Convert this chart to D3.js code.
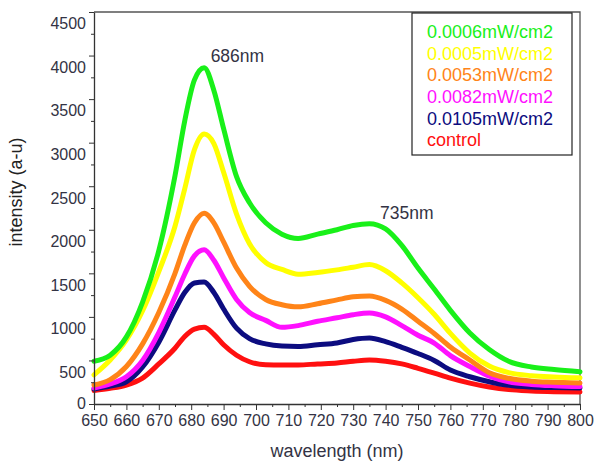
<!DOCTYPE html>
<html>
<head>
<meta charset="utf-8">
<script src="https://cdn.jsdelivr.net/npm/d3@7"></script>
<style>
  body { margin: 0; background: #fff; }
  text { font-family: "Liberation Sans", Arial, sans-serif; }
</style>
</head>
<body>
<svg id="chart"></svg>
<script>
var width = 594;
var height = 463;
var pad = { top: 12, right: 14, bottom: 59, left: 94 };

// wavelength samples (nm)
var wavelengths = [650, 655, 660, 665, 670, 675, 678, 681, 684, 687, 690, 694, 698, 703, 708, 713,
                   719, 725, 730, 735, 740, 745, 750, 755, 760, 766, 772, 778, 785, 792, 800];

// intensity readings per series (a-u)
var green = [490, 560, 770, 1170, 1760, 2620, 3250, 3720, 3860, 3600, 3160, 2610, 2310, 2080, 1950, 1900,
             1950, 2000, 2050, 2070, 2010, 1820, 1560, 1320, 1075, 815, 625, 490, 425, 395, 370];
var yellow = [335, 505, 735, 1070, 1520, 2040, 2470, 2920, 3100, 2990, 2660, 2180, 1840, 1625, 1545, 1490,
              1510, 1540, 1570, 1600, 1530, 1390, 1220, 1030, 810, 585, 435, 360, 325, 310, 300];
var orange = [218, 280, 430, 690, 1050, 1500, 1820, 2080, 2190, 2080, 1860, 1560, 1350, 1200, 1140, 1115,
              1150, 1195, 1230, 1240, 1190, 1090, 950, 810, 655, 505, 360, 295, 262, 250, 240];
var magenta = [184, 230, 313, 500, 820, 1230, 1490, 1700, 1770, 1650, 1450, 1200, 1050, 960, 880, 900,
               950, 990, 1025, 1045, 1000, 900, 790, 700, 555, 430, 320, 255, 225, 210, 200];
var navy = [172, 205, 256, 425, 710, 1080, 1280, 1390, 1400, 1280, 1090, 870, 750, 690, 665, 660,
            680, 700, 740, 757, 715, 650, 580, 500, 390, 313, 256, 215, 195, 188, 184];
var control = [155, 180, 218, 298, 460, 640, 775, 860, 880, 800, 680, 560, 485, 450, 448, 448,
               460, 470, 490, 505, 490, 460, 410, 355, 298, 240, 195, 165, 150, 142, 138];

var seriesNames = ["0.0006mW/cm2", "0.0005mW/cm2", "0.0053mW/cm2", "0.0082mW/cm2", "0.0105mW/cm2", "control"];
var seriesColors = ["#19f019", "#ffff00", "#ff8418", "#ff10ff", "#0c0c80", "#ff1010"];
var seriesValues = [green, yellow, orange, magenta, navy, control];

var xMajor = d3.range(650, 801, 10);
var xMinor = d3.range(655, 800, 10);
var yMajor = d3.range(0, 4501, 500);
var yMinor = d3.range(250, 4500, 500);

var peakLabels = [{ text: "686nm", x: 686, y: 4000 }, { text: "735nm", x: 738.3, y: 2190 }];

var svg = d3.select("#chart")
    .attr("width", width)
    .attr("height", height);

var x = d3.scaleLinear()
    .domain([650, 800])
    .range([pad.left, width - pad.right]);

var y = d3.scaleLinear()
    .domain([0, 4500])
    .range([height - pad.bottom, pad.top]);

// frame (top and right sides)
svg.append("path")
    .attr("d", "M" + x(650) + "," + y(4500) + "H" + x(800) + "V" + y(0))
    .attr("fill", "none")
    .attr("stroke", "#555")
    .attr("stroke-width", 1.3);

// lines, control at the bottom of the stack
var line = d3.line()
    .x(function(d, i) { return x(wavelengths[i]); })
    .y(function(d) { return y(d); })
    .curve(d3.curveMonotoneX);

svg.append("g")
  .selectAll("path")
  .data(d3.range(seriesValues.length).reverse())
  .enter()
  .append("path")
    .attr("d", function(i) { return line(seriesValues[i]); })
    .attr("fill", "none")
    .attr("stroke", function(i) { return seriesColors[i]; })
    .attr("stroke-width", 5)
    .attr("stroke-linejoin", "round")
    .attr("stroke-linecap", "round");

// axes
var xAxis = svg.append("g")
    .attr("transform", "translate(0," + y(0) + ")")
    .call(d3.axisBottom(x).tickValues(xMajor).tickSize(6).tickSizeOuter(0).tickPadding(5)
      .tickFormat(d3.format("d")));
svg.append("g")
    .attr("transform", "translate(0," + y(0) + ")")
    .call(d3.axisBottom(x).tickValues(xMinor).tickSize(3).tickFormat(""))
    .call(function(g) { g.select(".domain").remove(); });

var yAxis = svg.append("g")
    .attr("transform", "translate(" + x(650) + ",0)")
    .call(d3.axisLeft(y).tickValues(yMajor).tickSize(5).tickSizeOuter(0).tickPadding(3)
      .tickFormat(d3.format("d")));
svg.append("g")
    .attr("transform", "translate(" + x(650) + ",0)")
    .call(d3.axisLeft(y).tickValues(yMinor).tickSize(3).tickFormat(""))
    .call(function(g) { g.select(".domain").remove(); });

svg.selectAll(".domain").attr("stroke", "#333").attr("stroke-width", 1.3);
svg.selectAll(".tick line").attr("stroke", "#333");
svg.selectAll(".tick text")
    .attr("font-size", 16)
    .attr("font-family", "Liberation Sans, Arial, sans-serif")
    .attr("fill", "#333344");
// labels on the y axis sit a little below their ticks in the reference
yAxis.selectAll(".tick text").attr("dy", "1.05em");
// keep the "0" clear of the "650" label under it
yAxis.selectAll(".tick text").filter(function(d) { return d === 0; }).attr("dy", "0.3em");

// axis titles
svg.append("text")
    .attr("x", (x(650) + x(800)) / 2)
    .attr("y", 457)
    .attr("text-anchor", "middle")
    .attr("font-size", 18)
    .attr("fill", "#333344")
    .text("wavelength (nm)");

svg.append("text")
    .attr("transform", "translate(22,192) rotate(-90)")
    .attr("text-anchor", "middle")
    .attr("font-size", 18)
    .attr("fill", "#222")
    .text("intensity (a-u)");

// peak labels
svg.selectAll(".peak")
  .data(peakLabels)
  .enter()
  .append("text")
    .attr("class", "peak")
    .attr("x", function(d) { return x(d.x); })
    .attr("y", function(d) { return y(d.y) + 6; })
    .attr("font-size", 17.5)
    .attr("fill", "#333344")
    .text(function(d) { return d.text; });

// legend
var legend = svg.append("g").attr("transform", "translate(412,13)");
legend.append("rect")
    .attr("width", 160)
    .attr("height", 142)
    .attr("fill", "#fff")
    .attr("stroke", "#222")
    .attr("stroke-width", 1.2);
legend.selectAll("text")
  .data(seriesNames)
  .enter()
  .append("text")
    .attr("x", 15)
    .attr("y", function(d, i) { return 18.5 + i * 21.7; })
    .attr("dy", "0.36em")
    .attr("font-size", 18)
    .attr("fill", function(d, i) { return seriesColors[i]; })
    .text(function(d) { return d; });
</script>
</body>
</html>
